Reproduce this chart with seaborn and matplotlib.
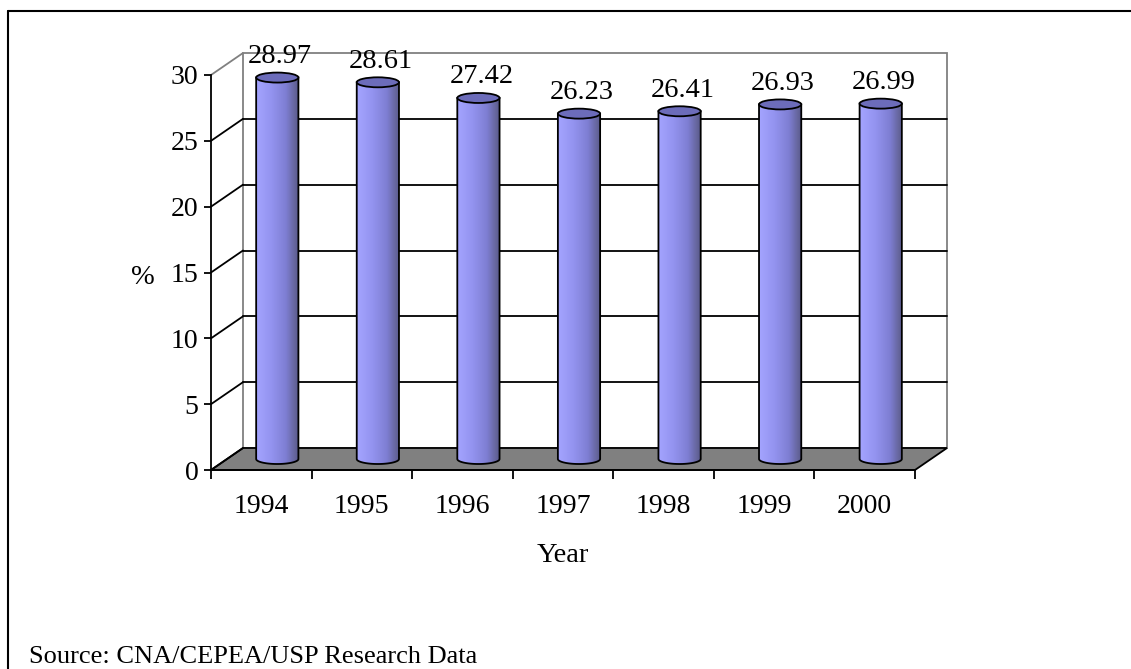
import numpy as np
import matplotlib
matplotlib.use("Agg")
import matplotlib.pyplot as plt
import seaborn as sns
from matplotlib import transforms as mtransforms
from matplotlib.patches import Ellipse, Polygon
from matplotlib.lines import Line2D
from matplotlib.colors import LinearSegmentedColormap

# --- data -------------------------------------------------------------
years = ["1994", "1995", "1996", "1997", "1998", "1999", "2000"]
shares = [28.97, 28.61, 27.42, 26.23, 26.41, 26.93, 26.99]
y_ticks = [0, 5, 10, 15, 20, 25, 30]
value_labels = ["28.97", "28.61", "27.42", "26.23", "26.41", "26.93", "26.99"]
source_note = "Source: CNA/CEPEA/USP Research Data"

# --- style ------------------------------------------------------------
sns.set_theme(style="white", rc={
    "text.color": "black", "axes.labelcolor": "black",
    "xtick.color": "black", "ytick.color": "black",
    "axes.edgecolor": "black",
})
plt.rcParams["font.family"] = ["Liberation Serif", "DejaVu Serif"]
FS_TICK = 20
FS_TEXT = 20.5
FS_NOTE = 19

W_PX, H_PX = 1131, 669
fig = plt.figure(figsize=(W_PX / 100, H_PX / 100), dpi=100)
fig.patch.set_facecolor("white")

# front plane of the pseudo-3D box (in pixels)
left, right, bottom, top = 211, 915, 470, 75
ax = fig.add_axes([left / W_PX, 1 - bottom / H_PX,
                   (right - left) / W_PX, (bottom - top) / H_PX])
ax.set_facecolor("none")

n = len(years)
ymax = y_ticks[-1]
px_per_cat = (right - left) / n
px_per_unit = (bottom - top) / ymax
DX = 32 / px_per_cat      # depth offset in category units
DY = 22 / px_per_unit     # depth offset in value units
EH = 10 / px_per_unit     # ellipse height of cylinder caps

# --- bars via seaborn --------------------------------------------------
sns.barplot(x=years, y=shares, ax=ax, width=0.42, color="#9999ff",
            saturation=1, errorbar=None, zorder=2)

x_lo, x_hi = -0.5, n - 0.5

# back wall, gridlines, side wall and floor
back = Polygon([(x_lo + DX, DY), (x_hi + DX, DY), (x_hi + DX, ymax + DY),
                (x_lo + DX, ymax + DY)], closed=True, facecolor="white",
               edgecolor="#808080", lw=1.3, zorder=0.5, clip_on=False)
ax.add_patch(back)
for v in y_ticks[1:-1]:
    ax.plot([x_lo + DX, x_hi + DX], [v + DY, v + DY], color="black",
            lw=1.3, zorder=0.6, clip_on=False)
for v in y_ticks:
    ax.plot([x_lo, x_lo + DX], [v, v + DY],
            color="#808080" if v == ymax else "black",
            lw=1.3, zorder=0.9, clip_on=False)
floor = Polygon([(x_lo, 0), (x_hi, 0), (x_hi + DX, DY), (x_lo + DX, DY)],
                closed=True, facecolor="#808080", edgecolor="black",
                lw=1.3, zorder=0.8, clip_on=False)
ax.add_patch(floor)

# cylinders sit halfway into the box depth
shift = mtransforms.Affine2D().translate(DX / 2, DY / 2) + ax.transData
cmap = LinearSegmentedColormap.from_list(
    "cyl", [(0.0, "#a4a4ff"), (0.35, "#9494f0"), (0.7, "#7e7ed2"),
            (0.9, "#66669e"), (1.0, "#58588a")])
grad = cmap(np.linspace(0, 1, 256))[np.newaxis, :, :3]

theta = np.linspace(np.pi, 2 * np.pi, 60)
for patch, label in zip(ax.patches, value_labels):
    x0, w, h = patch.get_x(), patch.get_width(), patch.get_height()
    xc = x0 + w / 2
    patch.set_facecolor("none")
    patch.set_edgecolor("none")
    patch.set_transform(shift)

    verts = np.column_stack([xc + (w / 2) * np.cos(theta),
                             (EH / 2) * np.sin(theta)])
    verts = np.vstack([verts, [[x0 + w, h], [x0, h]]])
    body = Polygon(verts, closed=True, facecolor="none", edgecolor="black",
                   lw=1.3, transform=shift, zorder=3, clip_on=False)
    ax.add_patch(body)
    img = ax.imshow(grad, extent=(x0, x0 + w, -EH / 2, h), aspect="auto",
                    origin="lower", interpolation="bilinear",
                    transform=shift, zorder=2.5)
    img.set_clip_path(body)

    cap = Ellipse((xc, h), w, EH, facecolor="#6c6cba", edgecolor="black",
                  lw=1.3, transform=shift, zorder=4, clip_on=False)
    ax.add_patch(cap)

    ax.annotate(label, xy=(xc, h), xycoords=shift, xytext=(3, 21),
                textcoords="offset pixels", ha="center", va="center",
                fontsize=FS_TEXT, zorder=5, annotation_clip=False)

# --- axes --------------------------------------------------------------
ax.set_xlim(x_lo, x_hi)
ax.set_ylim(0, ymax)
for side in ("top", "right"):
    ax.spines[side].set_visible(False)
for side in ("left", "bottom"):
    ax.spines[side].set_linewidth(1.3)
    ax.spines[side].set_zorder(3)

ax.set_yticks(y_ticks)
ax.set_yticklabels([str(v) for v in y_ticks], fontsize=FS_TICK)
ax.tick_params(axis="y", which="major", direction="out", length=5,
               width=1.3, pad=4, left=True)

ax.set_xticks(np.arange(x_lo, x_hi + 0.01, 1.0))
ax.set_xticklabels([""] * (n + 1))
ax.set_xticks(np.arange(n), minor=True)
ax.set_xticklabels(years, minor=True, fontsize=FS_TICK)
ax.tick_params(axis="x", which="major", direction="out", length=6.5,
               width=1.3, bottom=True)
ax.tick_params(axis="x", which="minor", length=0, pad=17, bottom=True)

ax.set_xlabel("Year", fontsize=FS_TEXT, va="center")
ax.xaxis.set_label_coords(0.5, (bottom - 556) / (bottom - top))
ax.set_ylabel("%", fontsize=FS_TEXT, rotation=0, ha="center", va="center")
ax.yaxis.set_label_coords((143 - left) / (right - left),
                          (bottom - 277) / (bottom - top))

# --- frame lines and source note -----------------------------------------
fig.add_artist(Line2D([8 / W_PX, 1], [1 - 11 / H_PX, 1 - 11 / H_PX],
                      color="black", lw=1.5))
fig.add_artist(Line2D([8 / W_PX, 8 / W_PX], [0, 1 - 11 / H_PX],
                      color="black", lw=1.5))
fig.text(29 / W_PX, 1 - 663 / H_PX, source_note, fontsize=FS_NOTE,
         ha="left", va="baseline")

fig.savefig("out.png", dpi=100, facecolor="white")
